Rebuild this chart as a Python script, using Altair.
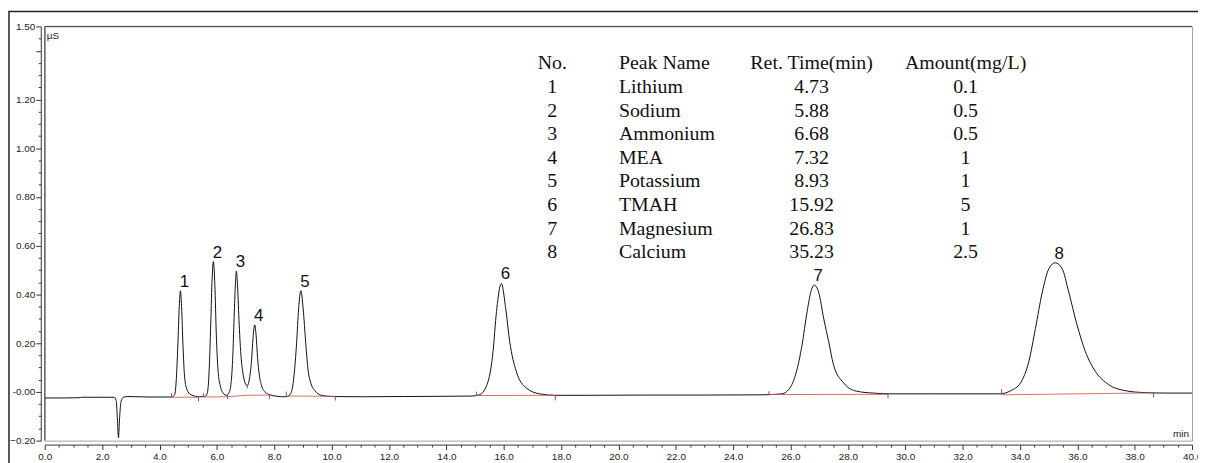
import altair as alt
import pandas as pd

# ---------------- chromatogram trace (min, µS) ----------------
time = [
    0.00, 0.60, 1.20, 1.30, 2.00, 2.42, 2.49, 2.53, 2.57, 2.61, 2.66, 2.74, 2.90, 3.60, 4.40,
    4.52, 4.58, 4.64, 4.69, 4.73, 4.77, 4.82, 4.87, 4.95, 5.10, 5.40,
    5.58, 5.66, 5.72, 5.78, 5.83, 5.88, 5.93, 5.98, 6.04, 6.12, 6.22, 6.34,
    6.42, 6.49, 6.55, 6.61, 6.65, 6.68, 6.72, 6.77, 6.84, 6.92, 7.00, 7.06,
    7.13, 7.21, 7.26, 7.32, 7.37, 7.42, 7.48, 7.56, 7.68, 7.85, 8.10,
    8.40, 8.55, 8.64, 8.71, 8.78, 8.85, 8.93, 9.01, 9.10, 9.18, 9.28, 9.42, 9.65, 10.00,
    11.00, 12.50, 14.00, 14.90,
    15.17, 15.46, 15.63, 15.75, 15.92, 16.07, 16.21, 16.44, 16.79, 17.25, 17.80,
    19.00, 21.00, 23.00, 25.00,
    25.70, 26.00, 26.20, 26.40, 26.58, 26.72, 26.83, 26.98, 27.16, 27.33, 27.50, 27.85, 28.30, 28.90, 29.50,
    31.00, 32.50, 33.30,
    33.68, 34.02, 34.31, 34.54, 34.78, 35.01, 35.23, 35.47, 35.70, 35.99, 36.28, 36.63, 37.09, 37.67, 38.36,
    39.20, 40.00,
]
signal = [
    -0.025, -0.025, -0.024, -0.022, -0.022, -0.022, -0.035, -0.105, -0.188, -0.105, -0.040, -0.022, -0.019, -0.021, -0.021,
    -0.014, 0.040, 0.190, 0.350, 0.415, 0.350, 0.190, 0.070, 0.012, -0.012, -0.020,
    -0.019, -0.008, 0.060, 0.250, 0.450, 0.535, 0.440, 0.240, 0.090, 0.025, -0.005, -0.014,
    -0.005, 0.030, 0.130, 0.330, 0.450, 0.495, 0.440, 0.300, 0.150, 0.070, 0.032, 0.025,
    0.050, 0.130, 0.220, 0.275, 0.230, 0.140, 0.070, 0.025, 0.000, -0.012, -0.018,
    -0.020, -0.012, 0.020, 0.090, 0.200, 0.340, 0.415, 0.340, 0.200, 0.090, 0.035, 0.005, -0.014, -0.019,
    -0.020, -0.019, -0.018, -0.017,
    -0.011, 0.044, 0.166, 0.330, 0.445, 0.343, 0.207, 0.084, 0.016, -0.008, -0.014,
    -0.014, -0.013, -0.013, -0.012,
    -0.008, 0.020, 0.080, 0.190, 0.330, 0.415, 0.438, 0.410, 0.300, 0.207, 0.111, 0.037, 0.003, -0.005, -0.008,
    -0.008, -0.008, -0.008,
    0.005, 0.037, 0.125, 0.260, 0.410, 0.506, 0.530, 0.506, 0.410, 0.275, 0.166, 0.084, 0.030, 0.005, -0.003,
    -0.005, -0.005,
]

# ---------------- peak table ----------------
peak_no = ["1", "2", "3", "4", "5", "6", "7", "8"]
peak_name = ["Lithium", "Sodium", "Ammonium", "MEA", "Potassium", "TMAH", "Magnesium", "Calcium"]
ret_time = [4.73, 5.88, 6.68, 7.32, 8.93, 15.92, 26.83, 35.23]
ret_time_text = ["4.73", "5.88", "6.68", "7.32", "8.93", "15.92", "26.83", "35.23"]
amount_text = ["0.1", "0.5", "0.5", "1", "1", "5", "1", "2.5"]
apex_signal = [0.415, 0.535, 0.495, 0.275, 0.415, 0.445, 0.438, 0.530]
header = ["No.", "Peak Name", "Ret. Time(min)", "Amount(mg/L)"]

# ---------------- integration baselines (red) ----------------
baseline_segment = [1, 1, 2, 2, 2, 2, 3, 3, 4, 4, 5, 5, 6, 6]
baseline_time = [4.42, 5.36, 5.53, 6.37, 7.06, 7.84, 8.42, 10.13, 15.05, 17.80, 25.25, 29.40, 33.36, 38.66]
baseline_signal = [-0.022, -0.022, -0.021, -0.020, -0.014, -0.013, -0.017, -0.018,
                   -0.015, -0.014, -0.011, -0.010, -0.012, -0.004]

# ---------------- peak start / end event marks ----------------
event_time = [4.42, 5.36, 5.53, 6.37, 7.06, 7.84, 8.42, 10.13, 15.05, 17.80, 25.25, 29.40, 33.36, 38.66]
event_low = [-0.022, -0.039, -0.021, -0.030, 0.014, -0.030, -0.017, -0.036, -0.017, -0.035, -0.013, -0.027, -0.010, -0.022]
event_high = [-0.005, -0.022, -0.004, -0.013, 0.030, -0.013, 0.001, -0.017, 0.001, -0.015, 0.003, -0.006, 0.011, -0.002]

W, H = 1155, 417
x_scale = alt.Scale(domain=[0, 40], nice=False, zero=False)
y_scale = alt.Scale(domain=[-0.2, 1.5], nice=False, zero=False)

x_ticks = [i * 0.5 for i in range(81)]
y_ticks = [round(-0.2 + 0.05 * i, 2) for i in range(35)]

FONT = "Liberation Sans"
SERIF = "Liberation Serif"

x_axis = alt.Axis(
    values=x_ticks,
    labelExpr="datum.value % 2 == 0 ? format(datum.value, '.1f') : ''",
    tickSize={"condition": {"test": "datum.value % 2 == 0", "value": 5}, "value": 2.5},
    offset=4, grid=False, title=None,
    domainColor="#333333", tickColor="#333333",
    labelFont=FONT, labelFontSize=10, labelColor="#222222",
    labelPadding=2, labelFlush=False, labelOverlap=False,
)
major_y = "abs(datum.value*5 - round(datum.value*5)) < 0.001 || abs(datum.value - 1.5) < 0.001"
y_axis = alt.Axis(
    values=y_ticks,
    labelExpr=("abs(datum.value) < 0.001 ? '-0.00' : ((" + major_y + ") && abs(datum.value - 1.4) > 0.001) "
               "? format(datum.value, '.2f') : ''"),
    tickSize={"condition": {"test": major_y, "value": 5}, "value": 2.5},
    offset=4, grid=False, title=None,
    domainColor="#333333", tickColor="#333333",
    labelFont=FONT, labelFontSize=10, labelColor="#222222",
    labelPadding=1, labelOverlap=False, labelFlush=False,
)


def X(field):
    return alt.X(field, scale=x_scale, axis=x_axis)


def Y(field):
    return alt.Y(field, scale=y_scale, axis=y_axis)


trace_df = pd.DataFrame({"time": time, "signal": signal})
peaks_df = pd.DataFrame({"label": peak_no, "rt": ret_time, "apex": apex_signal})
base_df = pd.DataFrame({"seg": baseline_segment, "time": baseline_time, "signal": baseline_signal})
event_df = pd.DataFrame({"time": event_time, "lo": event_low, "hi": event_high})

trace = alt.Chart(trace_df).mark_line(color="#111111", strokeWidth=1, interpolate="monotone").encode(
    x=X("time:Q"), y=Y("signal:Q"), order="time:Q",
)

red = alt.Chart(base_df).mark_line(color="#d9534f", strokeWidth=1, opacity=0.85).encode(
    x=X("time:Q"), y=Y("signal:Q"), detail="seg:N",
)

events = alt.Chart(event_df).mark_rule(color="#5a5aa8", strokeWidth=1).encode(
    x=X("time:Q"), y=Y("lo:Q"), y2="hi:Q",
)

labels = alt.Chart(peaks_df).mark_text(
    font=FONT, fontSize=17, color="#111111", align="center", baseline="alphabetic", dx=4, dy=-4
).encode(x=X("rt:Q"), y=Y("apex:Q"), text="label:N")

# peak table (placed in plot coordinates)
table_df = pd.DataFrame({
    "r": list(range(9)),
    "no": [header[0]] + peak_no,
    "name": [header[1]] + peak_name,
    "rt": [header[2]] + ret_time_text,
    "amt": [header[3]] + amount_text,
})
PX_PER_UNIT_Y = H / 1.7
table_base = alt.Chart(table_df).transform_calculate(
    yv=f"1.5 - (43.3 + 23.75 * datum.r) / {PX_PER_UNIT_Y}"
)


def table_col(field, xpix, align):
    return table_base.mark_text(
        font=SERIF, fontSize=20, color="#111111", align=align, baseline="alphabetic"
    ).encode(x=alt.value(xpix), y=Y("yv:Q"), text=f"{field}:N")


table = alt.layer(
    table_col("no", 511, "center"),
    table_col("name", 578, "left"),
    table_col("rt", 772, "center"),
    table_col("amt", 927, "center"),
)

# decoration: outer frame, dark top/left edges of the plot frame, unit captions
frame = alt.Chart(pd.DataFrame({"k": [0]})).mark_rect(
    filled=False, stroke="#222222", strokeWidth=1.5
).encode(x=alt.value(-36), x2=alt.value(W + 30), y=alt.value(-15), y2=alt.value(H + 40))
top_edge = alt.Chart(pd.DataFrame({"k": [0]})).mark_rule(color="#444444", strokeWidth=1).encode(
    x=alt.value(0), x2=alt.value(W), y=alt.value(0))
left_edge = alt.Chart(pd.DataFrame({"k": [0]})).mark_rule(color="#444444", strokeWidth=1).encode(
    x=alt.value(0), y=alt.value(0), y2=alt.value(H))
unit_y = alt.Chart(pd.DataFrame({"t": ["µS"]})).mark_text(
    font=FONT, fontSize=10, color="#222222", align="left", baseline="alphabetic"
).encode(text="t:N", x=alt.value(2), y=alt.value(12.5))
unit_x = alt.Chart(pd.DataFrame({"t": ["min"]})).mark_text(
    font=FONT, fontSize=10, color="#222222", align="right", baseline="alphabetic"
).encode(text="t:N", x=alt.value(W - 3), y=alt.value(H - 4))

chart = alt.layer(
    trace, red, events, labels, table, frame, unit_y, unit_x, top_edge, left_edge
).properties(
    width=W, height=H,
    padding={"left": 37, "top": 17, "right": 6, "bottom": 21},
    autosize=alt.AutoSizeParams(type="none"),
    background="white",
).configure_view(stroke="#a0a0a0", strokeWidth=1)

chart.save("out.html", embed_options={"renderer": "svg", "actions": False})
